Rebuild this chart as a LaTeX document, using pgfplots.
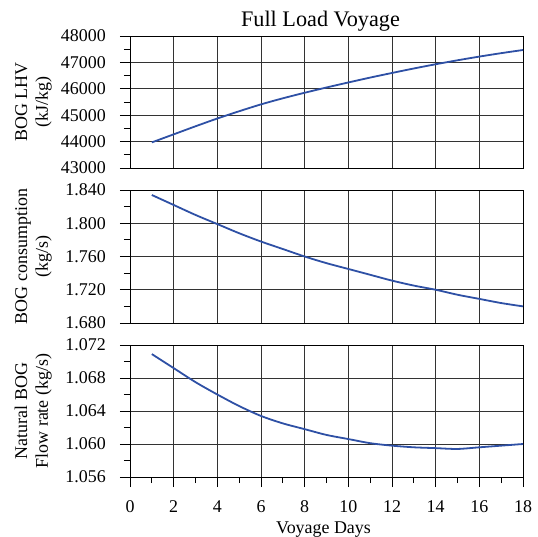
\documentclass[border=0pt]{standalone}
\usepackage{pgfplots}
\pgfplotsset{compat=1.18}
\usepackage{fontspec}
\setmainfont{Liberation Serif}
\definecolor{lineblue}{RGB}{46,80,165}
\pgfplotsset{
  common/.style={
    scale only axis,
    width=393bp,
    xmin=0, xmax=18,
    xtick={0,2,...,18},
    grid=major,
    major grid style={black!80, line width=0.8bp},
    axis line style={black, line width=0.8bp},
    tick align=outside,
    ytick pos=left,
    minor y tick num=1,
    major tick length=10bp,
    minor tick length=6bp,
    every tick/.style={black, line width=0.8bp},
    tick label style={font=\fontsize{18}{21}\selectfont, inner sep=0pt},
    yticklabel style={anchor=east, xshift=-14bp},
    xticklabel style={anchor=north, yshift=-13bp},
    scaled y ticks=false,
    /pgf/number format/assume math mode=true,
    /pgf/number format/set thousands separator={},
    every axis y label/.style={at={(axis description cs:0,0.5)},xshift=-78bp,anchor=south,rotate=90,align=center,inner sep=0pt,font=\fontsize{18}{21}\selectfont},
    every axis x label/.style={at={(axis description cs:0.5,0)},anchor=base,xshift=-3bp,yshift=-56bp,inner sep=0pt,font=\fontsize{18}{21}\selectfont},
    every axis title/.style={at={(axis description cs:0.5,1)},anchor=base,xshift=-6bp,yshift=9.3bp,inner sep=0pt,font=\fontsize{22.3}{26}\selectfont},
  },
  myline/.style={color=lineblue, line width=1.8bp, smooth, mark=none},
}
\begin{document}
\begin{tikzpicture}
\path[use as bounding box] (-130bp,-369bp) rectangle (408bp,168bp);
\begin{axis}[common, height=132bp, at={(0,0)},
  ymin=43000, ymax=48000, ytick={43000,44000,...,48000},
  xticklabels={}, xtick style={draw=none},
  title={Full Load Voyage},
  ylabel={BOG LHV\\(kJ/kg)}]
\addplot[myline] coordinates {(1,43970)(2,44275)(3,44580)(4,44875)(5,45150)(6,45410)(7,45640)(8,45850)(9,46050)(10,46240)(11,46425)(12,46600)(13,46770)(14,46930)(15,47080)(16,47220)(17,47350)(18,47470)};
\end{axis}
\begin{axis}[common, height=133bp, at={(0,-155bp)},
  ymin=1.68, ymax=1.84, ytick={1.68,1.72,1.76,1.80,1.84},
  yticklabel style={/pgf/number format/.cd,fixed,fixed zerofill,precision=3},
  xticklabels={}, xtick style={draw=none},
  ylabel={BOG consumption\\(kg/s)}]
\addplot[myline] coordinates {(1,1.834)(2,1.822)(3,1.810)(4,1.799)(5,1.788)(6,1.778)(7,1.769)(8,1.760)(9,1.752)(10,1.745)(11,1.738)(12,1.731)(13,1.725)(14,1.720)(15,1.714)(16,1.709)(17,1.704)(18,1.700)};
\end{axis}
\begin{axis}[common, height=132bp, at={(0,-309bp)},
  ymin=1.056, ymax=1.072, ytick={1.056,1.060,1.064,1.068,1.072},
  yticklabel style={/pgf/number format/.cd,fixed,fixed zerofill,precision=3},
  xtick pos=bottom, minor x tick num=1,
  xlabel={Voyage Days},
  ylabel={Natural BOG\\Flow rate (kg/s)}]
\addplot[myline] coordinates {(1,1.0709)(2,1.0692)(3,1.0675)(4,1.0660)(5,1.0646)(6,1.0634)(7,1.0625)(8,1.0618)(9,1.0611)(10,1.0606)(11,1.0601)(12,1.0598)(13,1.0596)(14,1.0595)(15,1.0594)(16,1.0596)(17,1.0598)(18,1.0600)};
\end{axis}
\end{tikzpicture}
\end{document}
